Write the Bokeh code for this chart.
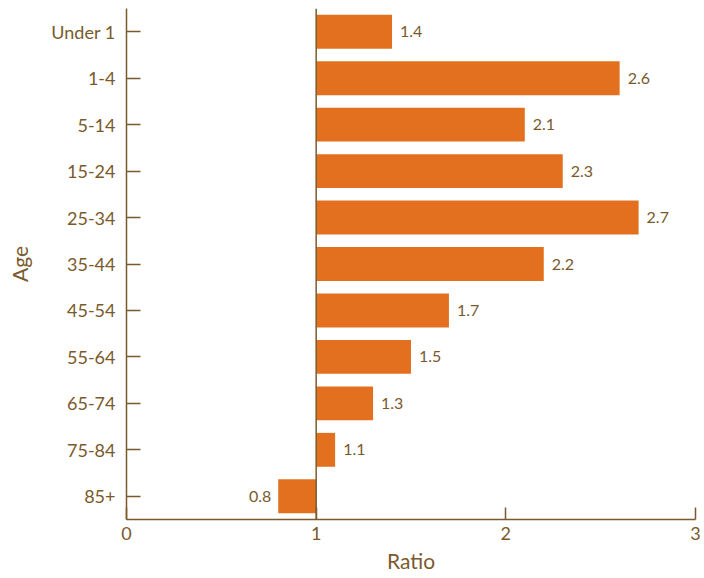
from bokeh.plotting import figure
from bokeh.models import FactorRange, Range1d, FixedTicker, Span, ColumnDataSource, LabelSet
from bokeh.core.properties import value
from bokeh.embed import file_html
from bokeh.resources import INLINE

ages = ["Under 1", "1-4", "5-14", "15-24", "25-34", "35-44", "45-54", "55-64", "65-74", "75-84", "85+"]
ratios = [1.4, 2.6, 2.1, 2.3, 2.7, 2.2, 1.7, 1.5, 1.3, 1.1, 0.8]
x_ticks = [0, 1, 2, 3]
baseline = 1

BAR = "#E3701F"
TXT = "#7A5A2C"
AX = "#7A5A2C"
FONT = "Lato"

above = [r for r in ratios if r >= baseline]
src_hi = ColumnDataSource(dict(y=[a for a, r in zip(ages, ratios) if r >= baseline],
                               x=above, t=[f"{r:.1f}" for r in above]))
below = [r for r in ratios if r < baseline]
src_lo = ColumnDataSource(dict(y=[a for a, r in zip(ages, ratios) if r < baseline],
                               x=below, t=[f"{r:.1f}" for r in below]))
src = ColumnDataSource(dict(y=ages, right=ratios))

p = figure(width=704, height=578, output_backend="svg", toolbar_location=None,
           y_range=FactorRange(factors=list(reversed(ages)), range_padding=0),
           x_range=Range1d(0, 3),
           min_border_left=126, min_border_right=9, min_border_top=8, min_border_bottom=59)
p.outline_line_color = None
p.xgrid.visible = False
p.ygrid.visible = False

p.hbar(y="y", left=baseline, right="right", height=0.73, source=src, color=BAR, line_color=None)
p.add_layout(Span(location=baseline, dimension="height", line_color=AX, line_width=1.5))

p.add_layout(LabelSet(x="x", y="y", text="t", source=src_hi, x_offset=8, text_baseline="middle",
                      text_align="left", text_color=TXT, text_font=value(FONT), text_font_size="16px"))
p.add_layout(LabelSet(x="x", y="y", text="t", source=src_lo, x_offset=-7, text_baseline="middle",
                      text_align="right", text_color=TXT, text_font=value(FONT), text_font_size="16px"))

for ax in (p.xaxis[0], p.yaxis[0]):
    ax.axis_line_color = AX
    ax.axis_line_width = 1.5
    ax.major_tick_line_color = AX
    ax.major_tick_line_width = 1.5
    ax.minor_tick_line_color = None
    ax.major_tick_out = 0
    ax.major_label_text_color = TXT
    ax.major_label_text_font = FONT
    ax.major_label_text_font_size = "18px"
    ax.axis_label_text_color = TXT
    ax.axis_label_text_font = FONT
    ax.axis_label_text_font_size = "21px"
    ax.axis_label_text_font_style = "normal"

p.xaxis.ticker = FixedTicker(ticks=x_ticks)
p.xaxis.major_tick_in = 12
p.xaxis.major_label_standoff = 7
p.xaxis.axis_label = "Ratio"
p.xaxis.axis_label_standoff = 5
p.yaxis.major_tick_in = 14
p.yaxis.major_label_standoff = 11
p.yaxis.axis_label = "Age"
p.yaxis.axis_label_standoff = 16

open("out.html", "w").write(file_html(p, INLINE))
